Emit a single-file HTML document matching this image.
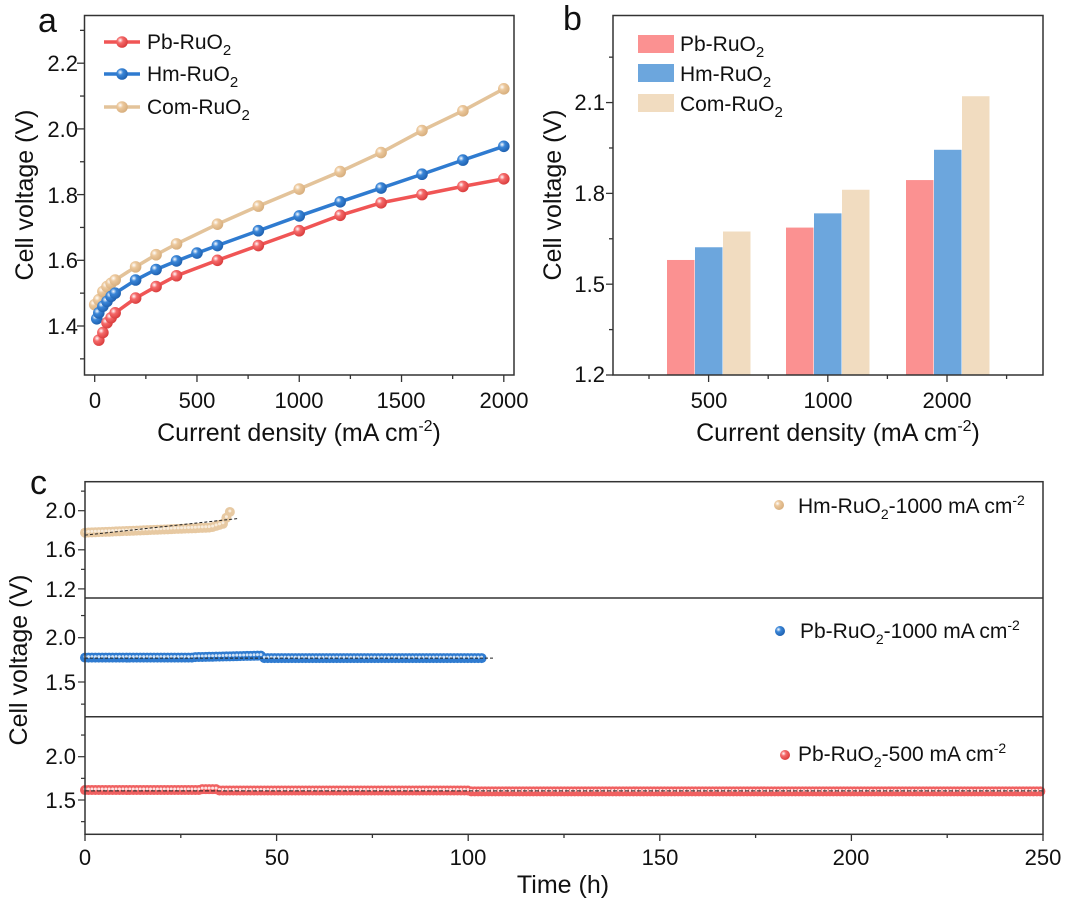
<!DOCTYPE html>
<html><head><meta charset="utf-8"><style>
html,body{margin:0;padding:0;background:#fff;}
svg text{font-family:"Liberation Sans",Arial,sans-serif;fill:#111;}
</style></head><body>
<svg id="s" width="1080" height="900" viewBox="0 0 1080 900" xmlns="http://www.w3.org/2000/svg">
<defs>
<radialGradient id="gr" cx="0.35" cy="0.35" r="0.7"><stop offset="0" stop-color="#fff"/><stop offset="0.35" stop-color="#f56a6a"/><stop offset="1" stop-color="#d83a3a"/></radialGradient>
<radialGradient id="gb" cx="0.35" cy="0.35" r="0.7"><stop offset="0" stop-color="#fff"/><stop offset="0.35" stop-color="#3a86d8"/><stop offset="1" stop-color="#1d5fae"/></radialGradient>
<radialGradient id="gt" cx="0.35" cy="0.35" r="0.7"><stop offset="0" stop-color="#fff"/><stop offset="0.35" stop-color="#ecc89c"/><stop offset="1" stop-color="#d6ad7c"/></radialGradient>
</defs>
<g id="A"></g>
<!-- Panel a -->
<text x="38" y="32" font-size="34">a</text>
<rect x="84.5" y="15.5" width="429.5" height="359.5" fill="none" stroke="#333" stroke-width="1.5"/>
<g font-size="22" text-anchor="end">
<text x="78" y="71">2.2</text><text x="78" y="137">2.0</text><text x="78" y="203">1.8</text><text x="78" y="268">1.6</text><text x="78" y="334">1.4</text>
</g>
<g font-size="22" text-anchor="middle">
<text x="95" y="408">0</text><text x="197" y="408">500</text><text x="299" y="408">1000</text><text x="401" y="408">1500</text><text x="504" y="408">2000</text>
</g>
<text x="299" y="441" font-size="25" text-anchor="middle">Current density (mA cm<tspan dy="-10" font-size="16">-2</tspan><tspan dy="10">)</tspan></text>
<text transform="translate(33,195) rotate(-90)" font-size="25" text-anchor="middle">Cell voltage (V)</text>
<g font-size="21">
<text x="147" y="49">Pb-RuO<tspan dy="6" font-size="15">2</tspan></text>
<text x="147" y="81">Hm-RuO<tspan dy="6" font-size="15">2</tspan></text>
<text x="147" y="114">Com-RuO<tspan dy="6" font-size="15">2</tspan></text>
</g>
<!-- Panel b -->
<text x="563" y="30" font-size="34">b</text>
<g id="B"></g>
<rect x="613" y="15.5" width="430" height="359.5" fill="none" stroke="#333" stroke-width="1.5"/>
<g font-size="22" text-anchor="end">
<text x="605" y="110">2.1</text><text x="605" y="201">1.8</text><text x="605" y="292">1.5</text><text x="605" y="382">1.2</text>
</g>
<g font-size="22" text-anchor="middle">
<text x="709" y="408">500</text><text x="828" y="408">1000</text><text x="947" y="408">2000</text>
</g>
<text x="838" y="441" font-size="25" text-anchor="middle">Current density (mA cm<tspan dy="-10" font-size="16">-2</tspan><tspan dy="10">)</tspan></text>
<text transform="translate(561,195) rotate(-90)" font-size="25" text-anchor="middle">Cell voltage (V)</text>
<rect x="638" y="35" width="36" height="18" fill="#fb9191"/>
<rect x="638" y="64" width="36" height="18" fill="#6ca6dd"/>
<rect x="638" y="94" width="36" height="18" fill="#f1dcc0"/>
<g font-size="21">
<text x="680" y="51">Pb-RuO<tspan dy="6" font-size="15">2</tspan></text>
<text x="680" y="81">Hm-RuO<tspan dy="6" font-size="15">2</tspan></text>
<text x="680" y="111">Com-RuO<tspan dy="6" font-size="15">2</tspan></text>
</g>
<!-- Panel c -->
<text x="30" y="494" font-size="34">c</text>
<g id="C"></g>
<rect x="85" y="481.7" width="958" height="352.6" fill="none" stroke="#333" stroke-width="1.5"/>
<line x1="85" y1="598" x2="1043" y2="598" stroke="#333" stroke-width="1.5"/>
<line x1="85" y1="716.7" x2="1043" y2="716.7" stroke="#333" stroke-width="1.5"/>
<g font-size="22" text-anchor="end">
<text x="76" y="518">2.0</text><text x="76" y="557">1.6</text><text x="76" y="597">1.2</text>
<text x="76" y="645">2.0</text><text x="76" y="690">1.5</text>
<text x="76" y="764">2.0</text><text x="76" y="808">1.5</text>
</g>
<g font-size="22" text-anchor="middle">
<text x="85" y="865">0</text><text x="277" y="865">50</text><text x="468" y="865">100</text><text x="660" y="865">150</text><text x="851" y="865">200</text><text x="1043" y="865">250</text>
</g>
<text x="563" y="893" font-size="25" text-anchor="middle">Time (h)</text>
<text transform="translate(27,660) rotate(-90)" font-size="25" text-anchor="middle">Cell voltage (V)</text>
<g font-size="21">
<text x="798" y="513">Hm-RuO<tspan dy="6" font-size="14">2</tspan><tspan dy="-6">-1000 mA cm</tspan><tspan dy="-8" font-size="14">-2</tspan></text>
<text x="800" y="638">Pb-RuO<tspan dy="6" font-size="14">2</tspan><tspan dy="-6">-1000 mA cm</tspan><tspan dy="-8" font-size="14">-2</tspan></text>
<text x="798" y="761">Pb-RuO<tspan dy="6" font-size="14">2</tspan><tspan dy="-6">-500 mA cm</tspan><tspan dy="-8" font-size="14">-2</tspan></text>
</g>
<circle cx="779" cy="505" r="5" fill="url(#gt)"/>
<circle cx="780" cy="631" r="5" fill="url(#gb)"/>
<circle cx="785" cy="755" r="5" fill="url(#gr)"/>
</svg>
<script>
var NS="http://www.w3.org/2000/svg";
function el(p,t,a){var e=document.createElementNS(NS,t);for(var k in a)e.setAttribute(k,a[k]);p.appendChild(e);return e;}
var A=document.getElementById("A"),B=document.getElementById("B"),C=document.getElementById("C");
function ax(x){return 94.7+x*0.20455;} function ay(v){return 326-(v-1.4)*328.5;}
for(var x=0;x<=2000;x+=250){el(A,"line",{x1:ax(x),y1:375,x2:ax(x),y2:x%500?379:382,stroke:"#333","stroke-width":1.3});}
for(var v=1.3;v<=2.31;v+=0.1){el(A,"line",{x1:84.5,y1:ay(v),x2:Math.round(v*10)%2?80:77,y2:ay(v),stroke:"#333","stroke-width":1.3});}
var S=[
["#e3c39a","url(#gt)",[[0,1.465],[20,1.48],[40,1.505],[60,1.52],[80,1.53],[100,1.54],[200,1.58],[300,1.617],[400,1.65],[600,1.71],[800,1.765],[1000,1.817],[1200,1.87],[1400,1.928],[1600,1.995],[1800,2.055],[2000,2.122]]],
["#2f7bd0","url(#gb)",[[10,1.422],[20,1.44],[40,1.46],[60,1.475],[80,1.49],[100,1.50],[200,1.54],[300,1.572],[400,1.598],[500,1.622],[600,1.645],[800,1.69],[1000,1.735],[1200,1.778],[1400,1.82],[1600,1.862],[1800,1.905],[2000,1.947]]],
["#f05555","url(#gr)",[[20,1.357],[40,1.38],[60,1.41],[80,1.425],[100,1.44],[200,1.485],[300,1.52],[400,1.553],[600,1.60],[800,1.645],[1000,1.69],[1200,1.737],[1400,1.775],[1600,1.80],[1800,1.825],[2000,1.848]]]];
S.forEach(function(s){var d=s[2].map(function(p,i){return (i?"L":"M")+ax(p[0])+","+ay(p[1]);}).join("");
el(A,"path",{d:d,fill:"none",stroke:s[0],"stroke-width":3.5});
s[2].forEach(function(p){el(A,"circle",{cx:ax(p[0]),cy:ay(p[1]),r:5.8,fill:s[1]});});});
[[42,"#f05555","url(#gr)"],[74,"#2f7bd0","url(#gb)"],[107,"#e3c39a","url(#gt)"]].forEach(function(l){
el(A,"line",{x1:104,y1:l[0],x2:140,y2:l[0],stroke:l[1],"stroke-width":3.5});el(A,"circle",{cx:122,cy:l[0],r:5.8,fill:l[2]});});
function by(v){return 375-(v-1.2)*302.7;}
var G=[[667,[1.58,1.622,1.674]],[786,[1.687,1.734,1.812]],[906,[1.844,1.944,2.121]]],cols=["#fb9191","#6ca6dd","#f1dcc0"];
G.forEach(function(g){g[1].forEach(function(v,i){var x=g[0]+i*28;el(B,"rect",{x:x,y:by(v),width:27.5,height:375-by(v),fill:cols[i]});});});
for(var i=0;i<7;i++){var x=649+i*59.6;el(B,"line",{x1:x,y1:375,x2:x,y2:i%2?382:379,stroke:"#333","stroke-width":1.3});}
for(var i=0;i<8;i++){var v=1.2+i*0.15;el(B,"line",{x1:613,y1:by(v),x2:i%2?609:606,y2:by(v),stroke:"#333","stroke-width":1.3});}
function cx(t){return 85+t*3.832;}
for(var t=0;t<=250;t+=25){el(C,"line",{x1:cx(t),y1:834,x2:cx(t),y2:t%50?838:841,stroke:"#333","stroke-width":1.3});}
function y1(v){return 510.7-(v-2.0)*97.75;} function y2(v){return 637.7-(v-2.0)*88.6;} function y3(v){return 756.7-(v-2.0)*86.6;}
for(var i=0;i<6;i++){var v=1.2+i*0.2;el(C,"line",{x1:85,y1:y1(v),x2:i%2?81:78,y2:y1(v),stroke:"#333","stroke-width":1.2});}
for(var i=0;i<5;i++){var v=1.25+i*0.25;el(C,"line",{x1:85,y1:y2(v),x2:i%2?78:81,y2:y2(v),stroke:"#333","stroke-width":1.2});el(C,"line",{x1:85,y1:y3(v),x2:i%2?78:81,y2:y3(v),stroke:"#333","stroke-width":1.2});}
function dots(t0,t1,fv,fy,col,lite){for(var t=t0;t<=t1;t+=0.9){el(C,"circle",{cx:cx(t),cy:fy(fv(t)),r:5,fill:col});}
for(var t=t0;t<=t1;t+=0.9){el(C,"circle",{cx:cx(t),cy:fy(fv(t))-1,r:1.5,fill:lite});}}
dots(0,38,function(t){return t<33?1.775+t*0.0016:(t<36?1.83+(t-33)*0.012:1.87+(t-36)*0.065);},y1,"#e7c9a2","#f8ecdc");
el(C,"line",{x1:cx(0),y1:y1(1.75),x2:cx(40),y2:y1(1.92),stroke:"#222","stroke-width":1,"stroke-dasharray":"3,2"});
dots(0,104,function(t){return t<28?1.775:(t<46?1.78+(t-28)*0.001:1.77);},y2,"#2f7bd0","#cfe2f6");
el(C,"line",{x1:cx(0),y1:y2(1.77),x2:cx(107),y2:y2(1.77),stroke:"#222","stroke-width":1,"stroke-dasharray":"3,2"});
dots(0,250,function(t){return t<30?1.615:(t<35?1.625:(t<100?1.61:1.6));},y3,"#f06060","#fde0e0");
el(C,"line",{x1:cx(0),y1:y3(1.605),x2:cx(250),y2:y3(1.605),stroke:"#222","stroke-width":1,"stroke-dasharray":"4,2"});
</script>
</body></html>
